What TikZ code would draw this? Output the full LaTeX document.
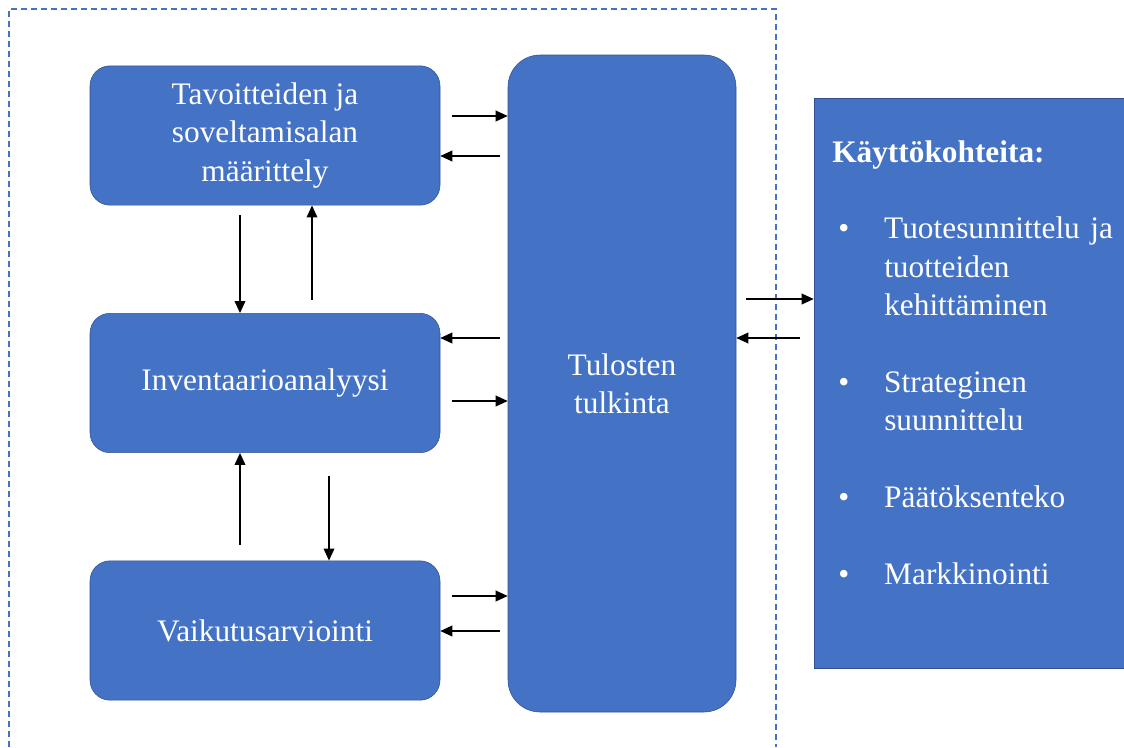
\documentclass[tikz,border=0pt]{standalone}
\usepackage{fontspec}
\setmainfont{Liberation Serif}
\usetikzlibrary{arrows.meta}

\definecolor{cajaazul}{HTML}{4472C4}
\definecolor{bordeazul}{HTML}{2F528F}

\newcommand{\cajafont}{\fontsize{23.5}{28.8}\selectfont}
\newcommand{\vinyeta}{\hspace*{4.5pt}\makebox[34.5pt][l]{\textbullet}}

\begin{document}
\begin{tikzpicture}[
        x=0.75pt, y=-0.75pt,
        fase/.style={
            rectangle,
            rounded corners=15pt,
            draw=bordeazul,
            fill=cajaazul,
            text=white,
            minimum width=262.5pt,
            minimum height=104.5pt,
            align=center,
            font=\cajafont
        },
        flecha/.style={-{Triangle[length=9pt,width=8pt]}, line width=1.05pt}
    ]
    \useasboundingbox (0,0) rectangle (1124,747);

    % Marco discontinuo
    \draw[cajaazul, line width=0.9pt, dash pattern=on 4.5pt off 3pt]
        (9,747) -- (9,9) -- (776,9) -- (776,747);

    % Cajas
    \node[fase] (obj) at (265,135.5) {Tavoitteiden ja\\soveltamisalan\\määrittely};
    \node[fase] (inv) at (265,383)   {Inventaarioanalyysi};
    \node[fase] (vai) at (265,630.5) {Vaikutusarviointi};
    \node[fase, rounded corners=24pt, minimum width=171pt, minimum height=492.75pt]
        (tul) at (622,383.5) {Tulosten\\tulkinta};
    \node[fase, rounded corners=0pt, minimum width=234pt, minimum height=427.5pt]
        (kay) at (970,383) {};

    % Texto de la derecha
    \node[anchor=north west, inner sep=0pt, text=white, font=\cajafont,
          text width=230pt, align=left] (lista) at (832,140) {%
        \textbf{Käyttökohteita:}\\
        \mbox{}\\
        \vinyeta\makebox[171pt][s]{Tuotesunnittelu ja}\\
        \hspace*{39pt}tuotteiden\\
        \hspace*{39pt}kehittäminen\\
        \mbox{}\\
        \vinyeta Strateginen\\
        \hspace*{39pt}suunnittelu\\
        \mbox{}\\
        \vinyeta Päätöksenteko\\
        \mbox{}\\
        \vinyeta Markkinointi};

    % Flechas horizontales
    \draw[flecha] ([xshift=9pt]obj.east |- 0,116) -- (tul.west |- 0,116);
    \draw[flecha] ([xshift=-6pt]tul.west |- 0,156) -- (obj.east |- 0,156);
    \draw[flecha] ([xshift=-6pt]tul.west |- 0,338) -- (inv.east |- 0,338);
    \draw[flecha] ([xshift=9pt]inv.east |- 0,401) -- (tul.west |- 0,401);
    \draw[flecha] ([xshift=9pt]vai.east |- 0,596) -- (tul.west |- 0,596);
    \draw[flecha] ([xshift=-6pt]tul.west |- 0,631) -- (vai.east |- 0,631);
    \draw[flecha] ([xshift=7pt]tul.east |- 0,299) -- (kay.west |- 0,299);
    \draw[flecha] ([xshift=-10.5pt]kay.west |- 0,338) -- (tul.east |- 0,338);

    % Flechas verticales
    \draw[flecha] ([yshift=-7.5pt]obj.south -| 240,0) -- (inv.north -| 240,0);
    \draw[flecha] ([yshift=10pt]inv.north -| 312,0) -- (obj.south -| 312,0);
    \draw[flecha] ([yshift=12pt]vai.north -| 240,0) -- (inv.south -| 240,0);
    \draw[flecha] ([yshift=-17pt]inv.south -| 329,0) -- (vai.north -| 329,0);

\end{tikzpicture}
\end{document}
